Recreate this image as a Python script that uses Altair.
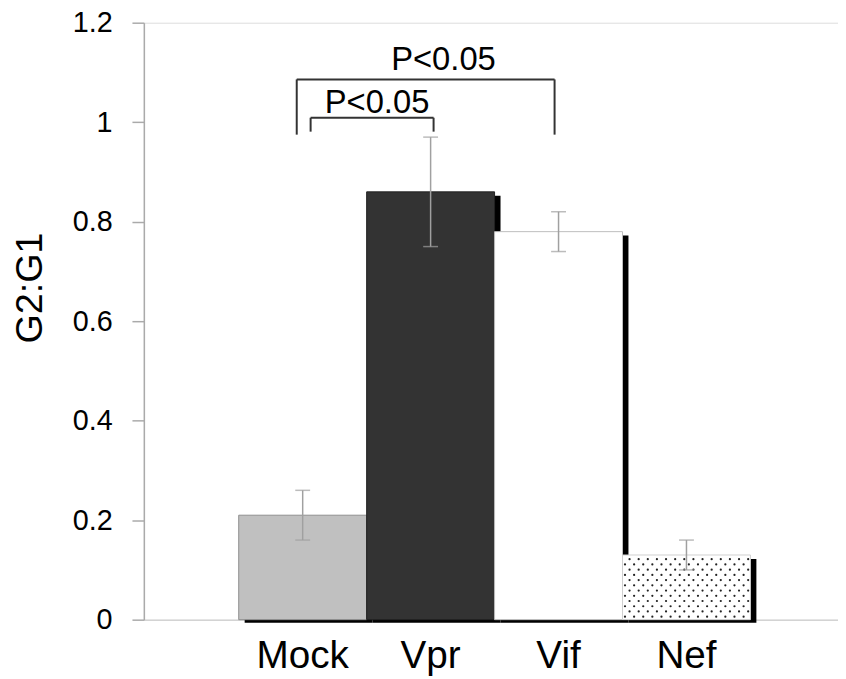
import altair as alt
import pandas as pd

# ---- data ----
cats = ["Mock", "Vpr", "Vif", "Nef"]
values = [0.21, 0.86, 0.78, 0.13]
errs = [0.05, 0.11, 0.04, 0.03]
fills = ["#c0c0c0", "#333333", "#ffffff", "#ffffff"]
strokes = ["#8f8f8f", "#222222", "#bdbdbd", "#cfcfcf"]

# significance brackets
br_from = ["Mock", "Mock"]
br_to = ["Vif", "Vpr"]
br_level = [1.086, 1.009]
br_leg_bottom = [0.975, 0.981]
br_label = ["P<0.05", "P<0.05"]
br_label_y = [1.104, 1.019]

df = pd.DataFrame({
    "cat": cats,
    "v": values,
    "lo": [v - e for v, e in zip(values, errs)],
    "hi": [v + e for v, e in zip(values, errs)],
})

# dotted texture for the Nef bar (decoration): staggered rows of dots
nef_val = values[cats.index("Nef")]
even_rows, odd_rows = [], []
r = 0
y = 0.006
while y < nef_val - 0.003:
    (even_rows if r % 2 == 0 else odd_rows).append({"cat": "Nef", "v": y})
    r += 1
    y += 0.0105
even_df = pd.DataFrame(even_rows)
odd_df = pd.DataFrame(odd_rows)

FONT = "Liberation Sans"

xscale = alt.Scale(type="band", domain=cats, paddingInner=0, paddingOuter=0.713, align=0.52)
yscale = alt.Scale(domain=[0, 1.2], nice=False, zero=True)

xaxis = alt.Axis(title=None, labelAngle=0, labelFontSize=39, labelFont=FONT,
                 labelColor="black", ticks=False, labelPadding=17,
                 domainColor="#c8c8c8", domainWidth=1)
yaxis = alt.Axis(title="G2:G1", values=[0, 0.2, 0.4, 0.6, 0.8, 1.0, 1.2],
                 format="~g", labelFontSize=29, labelFont=FONT, labelColor="black",
                 tickSize=12, tickColor="#aaaaaa", tickWidth=1.5, labelPadding=20,
                 domainColor="#aaaaaa", domainWidth=1.5, grid=False,
                 titleFontSize=38, titleFont=FONT, titleFontWeight="normal",
                 titleColor="black", titleX=-114, titleY=267, titleAngle=-90,
                 titleAlign="center", titleBaseline="middle")


def X(field="cat"):
    return alt.X(f"{field}:N", sort=cats, scale=xscale, axis=xaxis)


def Y(field="v"):
    return alt.Y(f"{field}:Q", scale=yscale, axis=yaxis)


base = alt.Chart(df)
full = alt.RelativeBandSize(1)

shadow = base.mark_bar(color="black", width=full, xOffset=6, yOffset=4, y2Offset=3).encode(
    x=X(), y=Y(), y2=alt.datum(0))

bars = base.mark_bar(strokeWidth=1, width=full).encode(
    x=X(), y=Y(),
    color=alt.Color("cat:N", scale=alt.Scale(domain=cats, range=fills), legend=None),
    stroke=alt.Stroke("cat:N", scale=alt.Scale(domain=cats, range=strokes), legend=None),
)

layers = [shadow, bars]

# dot columns: one layer per column, pixel nudge as a style offset
pitch = 9.2
for c in range(14):
    layers.append(alt.Chart(even_df).mark_circle(
        size=5, color="#222222", opacity=1, xOffset=-62 + pitch * c).encode(x=X(), y=Y()))
    layers.append(alt.Chart(odd_df).mark_circle(
        size=5, color="#222222", opacity=1, xOffset=-57.4 + pitch * c).encode(x=X(), y=Y()))

err_rule = base.mark_rule(color="#a0a0a0", strokeWidth=1.5).encode(
    x=X(), y=Y("lo"), y2="hi:Q")
cap_hi = base.mark_tick(color="#a0a0a0", size=15, thickness=1.5).encode(
    x=X(), y=Y("hi"))
cap_lo = base.mark_tick(color="#a0a0a0", size=15, thickness=1.5).encode(
    x=X(), y=Y("lo"))

layers += [err_rule, cap_hi, cap_lo]

# brackets: per-bracket pixel nudges (style): left end, right end, label dx
nudges = [(-6, -4, 142), (8, 3, 75)]
for i in range(len(br_from)):
    bd = pd.DataFrame({"a": [br_from[i]], "b": [br_to[i]], "lvl": [br_level[i]],
                       "bot": [br_leg_bottom[i]], "lab": [br_label[i]],
                       "ly": [br_label_y[i]]})
    ox1, ox2, tdx = nudges[i]
    bc = alt.Chart(bd)
    horiz = bc.mark_rule(color="#333333", strokeWidth=2, xOffset=ox1, x2Offset=ox2).encode(
        x=X("a"), x2="b:N", y=Y("lvl"))
    legL = bc.mark_rule(color="#333333", strokeWidth=2, xOffset=ox1).encode(
        x=X("a"), y=Y("bot"), y2="lvl:Q")
    legR = bc.mark_rule(color="#333333", strokeWidth=2, xOffset=ox2).encode(
        x=X("b"), y=Y("bot"), y2="lvl:Q")
    txt = bc.mark_text(
        font=FONT, fontSize=33, color="black", baseline="alphabetic", align="center", dx=tdx
    ).encode(x=X("a"), y=Y("ly"), text="lab:N")
    layers += [horiz, legL, legR, txt]

chart = alt.layer(*layers).properties(
    width=700, height=602,
    autosize=alt.AutoSizeParams(type="none"),
    padding={"left": 137, "top": 12, "right": 0, "bottom": 57},
).configure_view(stroke=None).configure(font=FONT)

chart.save("out.html", embed_options={"renderer": "svg", "actions": False})
